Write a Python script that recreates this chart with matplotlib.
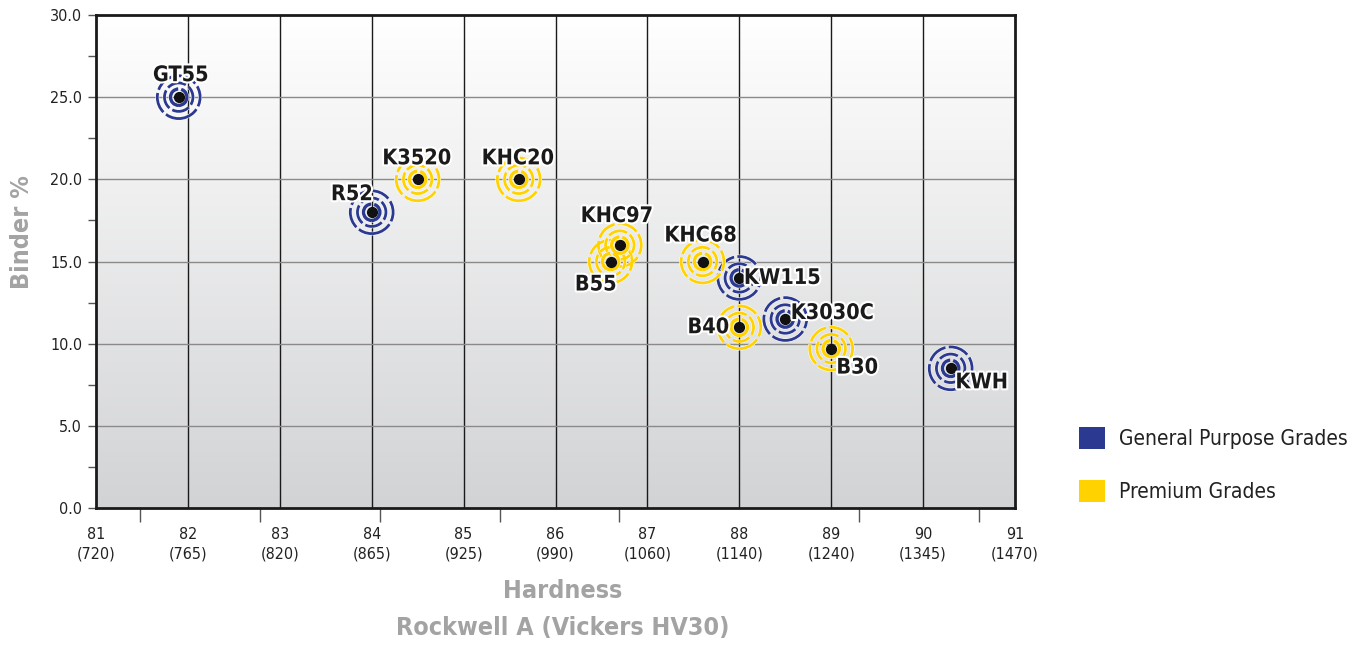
import matplotlib
matplotlib.use("Agg")
import matplotlib.pyplot as plt
import matplotlib.patheffects as pe
from matplotlib.patches import Patch
import numpy as np

# grade data: hardness (Rockwell A) vs binder %
grades   = ["GT55", "R52", "K3520", "KHC20", "KHC97", "B55", "KHC68", "KW115", "B40", "K3030C", "B30", "KWH"]
hardness = [81.9, 84.0, 84.5, 85.6, 86.7, 86.6, 87.6, 88.0, 88.0, 88.5, 89.0, 90.3]
binder   = [25.0, 18.0, 20.0, 20.0, 16.0, 15.0, 15.0, 14.0, 11.0, 11.5, 9.7, 8.5]
group    = ["general", "general", "premium", "premium", "premium", "premium", "premium",
            "general", "premium", "general", "premium", "general"]

rockwell = [81, 82, 83, 84, 85, 86, 87, 88, 89, 90, 91]
vickers  = [720, 765, 820, 865, 925, 990, 1060, 1140, 1240, 1345, 1470]

colors = {"general": "#2b3990", "premium": "#ffd200"}
legend_names = {"general": "General Purpose Grades", "premium": "Premium Grades"}

# label offsets in pixels (dx, dy)
label_off = {"GT55": (2, 22), "R52": (-20, 18), "K3520": (-1, 21), "KHC20": (-1, 21),
             "KHC97": (-3, 29), "B55": (-15, -23), "KHC68": (-2, 26), "KW115": (43, 0),
             "B40": (-31, 0), "K3030C": (47, 6), "B30": (26, -19), "KWH": (31, -14)}

FONT = {"family": "DejaVu Sans", "stretch": "condensed"}
W, H = 1359, 646
fig = plt.figure(figsize=(W / 100, H / 100), dpi=100)
ax = fig.add_axes([96 / W, 1 - 508 / H, (1015 - 96) / W, (508 - 15) / H])

# background gradient, white on top
grad = np.linspace(0, 1, 256).reshape(-1, 1)
cmap = matplotlib.colors.LinearSegmentedColormap.from_list("bg", ["#ffffff", "#d2d3d5"])
ax.imshow(grad, extent=[0, 1, 0, 1], origin="upper", transform=ax.transAxes, cmap=cmap,
          aspect="auto", zorder=0)

ax.set_xlim(81, 91)
ax.set_ylim(0, 30)

for x in rockwell[1:-1]:
    ax.axvline(x, color="#1a1a1a", lw=1.0, zorder=1)
for y in range(5, 30, 5):
    ax.axhline(y, color="#8a8a8a", lw=1.0, zorder=1)

# markers: dashed concentric rings with a dot
hx = np.array(hardness)
by = np.array(binder)
rings = [(950, 2.0, (0, (7.5, 1.2))), (420, 2.0, (3, (7, 1.2))), (140, 2.4, (1, (8, 0.9)))]
for g in ["general", "premium"]:
    m = np.array([gg == g for gg in group])
    for s, lw, ls in rings:
        ax.scatter(hx[m], by[m], s=s, facecolors="none", edgecolors=colors[g],
                   linewidths=lw, linestyle=ls, zorder=3,
                   path_effects=[pe.Stroke(linewidth=lw + 0.7, foreground="white"), pe.Normal()])
ax.scatter(hx, by, s=50, color="#111111", zorder=4)

for name, x, y in zip(grades, hardness, binder):
    dx, dy = label_off[name]
    ax.annotate(name, (x, y), xytext=(dx * 0.72, dy * 0.72), textcoords="offset points",
                ha="center", va="center", fontsize=15.5, fontweight="bold",
                color="#1a1a1a", zorder=5, **FONT,
                path_effects=[pe.withStroke(linewidth=3, foreground="white")])

# axes styling
for sp in ax.spines.values():
    sp.set_linewidth(2)
    sp.set_color("#1a1a1a")
    sp.set_zorder(6)

ax.set_yticks(np.arange(0, 31, 5))
ax.set_yticklabels([f"{v:.1f}" for v in np.arange(0, 31, 5)])
ax.set_yticks(np.arange(2.5, 30, 5), minor=True)
ax.tick_params(axis="y", which="both", direction="out", length=6, width=1,
               color="#555555", labelsize=11.5, labelcolor="#222222", pad=4)

ax.set_xticks(rockwell)
ax.set_xticklabels([f"{r}\n({v})" for r, v in zip(rockwell, vickers)])
ax.set_xticks(81.48 + 1.304 * np.arange(8), minor=True)
ax.tick_params(axis="x", which="major", length=0, labelsize=11.5, labelcolor="#222222", pad=14)
ax.tick_params(axis="x", which="minor", direction="out", length=10, width=1, color="#555555")
for lab in ax.get_xticklabels() + ax.get_yticklabels():
    lab.set_family(FONT["family"])
    lab.set_stretch(FONT["stretch"])
    lab.set_linespacing(1.3)

label_kw = dict(fontsize=18, fontweight="bold", color="#a3a3a3", **FONT)
fig.text(22 / W, 1 - 232 / H, "Binder %", rotation=90, ha="center", va="center", **label_kw)
fig.text(563 / W, 1 - 591 / H, "Hardness", ha="center", va="center", **label_kw)
fig.text(563 / W, 1 - 628 / H, "Rockwell A (Vickers HV30)", ha="center", va="center", **label_kw)

handles = [Patch(facecolor=colors[g], edgecolor="none", label=legend_names[g])
           for g in ["general", "premium"]]
leg = fig.legend(handles=handles, loc="upper left", bbox_to_anchor=(1060 / W, 1 - 408 / H),
                 frameon=False, handlelength=1.25, handleheight=1.25, labelspacing=1.5,
                 handletextpad=0.7, prop={"family": FONT["family"], "stretch": FONT["stretch"], "size": 15})
for t in leg.get_texts():
    t.set_color("#222222")

fig.savefig("out.png", dpi=100)
